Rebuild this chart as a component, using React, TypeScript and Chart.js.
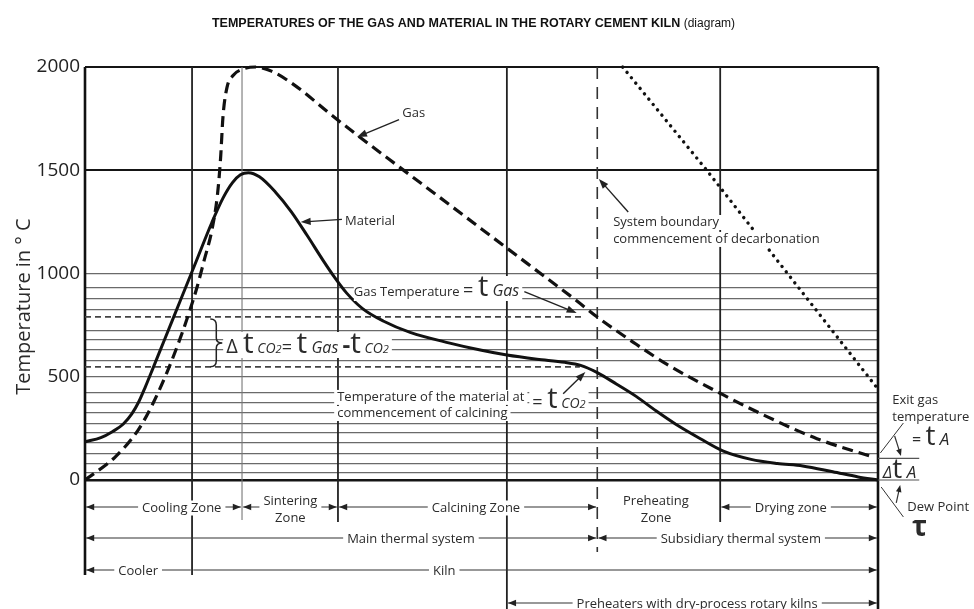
import { useEffect, useRef } from 'react';
import { Chart, registerables } from 'chart.js';

Chart.register(...registerables);

// ---------------- data ----------------
const chartTitle = 'TEMPERATURES OF THE GAS AND MATERIAL IN THE ROTARY CEMENT KILN';
const chartTitleNote = '(diagram)';
const yAxisTitle = 'Temperature in \u00B0 C';

const yTickLabels = [0, 500, 1000, 1500, 2000];
const yGridValues = [0, 35, 80, 130, 180, 230, 275, 325, 375, 425, 500, 580, 630, 680, 725, 825, 880, 930, 1000, 1500, 2000];

// position along the plant (0 = cooler discharge, 100 = kiln gas exit)
const gasPosition = [0, 3.8, 6.7, 8.6, 10.3, 11.6, 12.9, 14.1, 15.0, 16.0, 16.7, 17.1, 17.4, 17.9, 18.7, 19.9, 21.5, 23.5, 26.5, 31.0, 34.3, 39.7, 46.0, 53.2, 58.0, 62.0, 64.6, 69.1, 73.4, 80.5, 86.0, 92.3, 99.4];
const gasTemperature = [0, 111, 242, 373, 518, 644, 784, 930, 1060, 1210, 1380, 1560, 1760, 1900, 1960, 1990, 2000, 1980, 1910, 1770, 1671, 1514, 1332, 1123, 984, 868, 789, 668, 560, 412, 307, 200, 111];

const materialPosition = [0, 2, 3.5, 4.8, 5.9, 6.8, 7.6, 8.4, 10, 12, 14, 16, 17.4, 18.6, 19.6, 20.6, 22, 24, 26, 28, 30, 31.5, 33, 35, 37.6, 41, 46, 50, 53.2, 57, 60.5, 62.5, 64.6, 67, 69.5, 72, 74.5, 77.6, 80.5, 84, 87.3, 90.5, 94.3, 97.5, 100];
const materialTemperature = [185, 205, 235, 270, 320, 380, 450, 525, 677, 867, 1057, 1247, 1365, 1440, 1478, 1488, 1468, 1395, 1300, 1185, 1065, 980, 905, 830, 770, 715, 663, 628, 605, 585, 570, 555, 520, 465, 405, 335, 270, 200, 140, 100, 80, 68, 40, 15, 0];

const dottedPosition = [67.8, 78.4, 99.9];
const dottedTemperature = [2000, 1500, 445];

const zoneBoundaries = [0, 13.5, 19.8, 31.9, 53.2, 64.6, 80.1, 100];

const tGas = 790;
const tCO2 = 548;
const tA = 105;
const dewPoint = 0;

const zoneNames = ['Cooling Zone', 'Sintering\nZone', 'Calcining Zone', 'Preheating\nZone', 'Drying zone'];
const zoneStart = [0, 19.8, 31.9, 64.6, 80.1];
const zoneEnd = [19.8, 31.9, 64.6, 80.1, 100];
const systemNames = ['Main thermal system', 'Subsidiary thermal system'];
const systemStart = [0, 64.6];
const systemEnd = [64.6, 100];
const unitNames = ['Cooler', 'Kiln'];
const unitStart = [0, 13.5];
const unitEnd = [13.5, 100];
const preheaterNames = ['Preheaters with dry-process rotary kilns'];
const preheaterStart = [53.2];
const preheaterEnd = [100];

// ---------------- drawing helpers ----------------
const FONT = '"Open Sans", "Noto Sans", "DejaVu Sans", sans-serif';
const f = (size: number, style = '') => `${style} ${size}px ${FONT}`.trim();
const INK = '#2b2b2b';

type Part = [string, string];

function drawParts(ctx: CanvasRenderingContext2D, x: number, y: number, parts: Part[], box: number[] | null, align: 'left' | 'center' = 'left') {
  let w = 0;
  for (const [t, fnt] of parts) { ctx.font = fnt; w += ctx.measureText(t).width; }
  let cx = align === 'center' ? x - w / 2 : x;
  if (box) {
    const padL = box.length > 2 ? box[2] : 3;
    ctx.fillStyle = '#fff'; ctx.fillRect(cx - padL, y - box[0], w + padL + 3, box[0] + box[1]);
  }
  ctx.fillStyle = INK; ctx.textAlign = 'left'; ctx.textBaseline = 'alphabetic';
  for (const [t, fnt] of parts) { ctx.font = fnt; ctx.fillText(t, cx, y); cx += ctx.measureText(t).width; }
  return w;
}

function arrow(ctx: CanvasRenderingContext2D, x1: number, y1: number, x2: number, y2: number, len = 10, half = 3.6) {
  const a = Math.atan2(y2 - y1, x2 - x1);
  const c = Math.cos(a), s = Math.sin(a);
  ctx.beginPath(); ctx.moveTo(x1, y1); ctx.lineTo(x2 - c * len * 0.7, y2 - s * len * 0.7); ctx.stroke();
  ctx.beginPath(); ctx.moveTo(x2, y2);
  ctx.lineTo(x2 - c * len - s * half, y2 - s * len + c * half);
  ctx.lineTo(x2 - c * len + s * half, y2 - s * len - c * half);
  ctx.closePath(); ctx.fill();
}

function head(ctx: CanvasRenderingContext2D, tipX: number, y: number, dir: number) {
  ctx.beginPath(); ctx.moveTo(tipX, y); ctx.lineTo(tipX - dir * 8, y - 3.3); ctx.lineTo(tipX - dir * 8, y + 3.3); ctx.closePath(); ctx.fill();
}

function drawRow(ctx: CanvasRenderingContext2D, xs: any, rowY: number, names: string[], starts: number[], ends: number[], centers: number[], heads: [boolean, boolean][]) {
  names.forEach((name, i) => {
    const x1 = xs.getPixelForValue(starts[i]) + 1.2;
    const x2 = xs.getPixelForValue(ends[i]) - 1.2;
    const [hl, hr] = heads[i];
    ctx.strokeStyle = '#333'; ctx.fillStyle = '#222'; ctx.lineWidth = 1.1;
    if (hl || hr) {
      ctx.beginPath(); ctx.moveTo(x1, rowY); ctx.lineTo(x2, rowY); ctx.stroke();
      if (hl) head(ctx, x1, rowY, -1);
      if (hr) head(ctx, x2, rowY, 1);
    }
    const lines = name.split('\n');
    const n = lines.length;
    const cx = xs.getPixelForValue(centers[i]);
    ctx.font = f(13);
    const wMax = Math.max(...lines.map((l) => ctx.measureText(l).width));
    const base0 = rowY + 4.5 - ((n - 1) * 17) / 2 + (n > 1 ? 1.5 : 0);
    ctx.fillStyle = '#fff';
    ctx.fillRect(cx - wMax / 2 - 4, base0 - 11, wMax + 8, (n - 1) * 17 + 15);
    lines.forEach((l, k) => drawParts(ctx, cx, base0 + k * 17, [[l, f(13)]], null, 'center'));
  });
}

const verticalStyle = [
  { w: 2.6, c: '#111', ext: 95 },
  { w: 1.8, c: '#222', ext: 95 },
  { w: 1.1, c: '#777', ext: 40 },
  { w: 1.8, c: '#222', ext: 42 },
  { w: 1.8, c: '#222', ext: 129 },
  { w: 1.6, c: '#333', ext: 72, dash: [12, 8] },
  { w: 1.8, c: '#222', ext: 42 },
  { w: 2.6, c: '#111', ext: 129 },
];

const kilnPlugin = {
  id: 'kilnNotes',
  beforeDatasetsDraw(chart: any) {
    const { ctx, chartArea: a, scales } = chart;
    const xs = scales.x, ys = scales.y;
    ctx.save();
    zoneBoundaries.forEach((v, i) => {
      const st: any = verticalStyle[i];
      const px = xs.getPixelForValue(v);
      ctx.beginPath(); ctx.setLineDash(st.dash || []);
      ctx.lineWidth = st.w; ctx.strokeStyle = st.c;
      ctx.moveTo(px, a.top); ctx.lineTo(px, a.bottom + st.ext); ctx.stroke();
    });
    // dashed reference temperatures
    ctx.setLineDash([6, 4]); ctx.lineWidth = 1.6; ctx.strokeStyle = '#444';
    ctx.beginPath(); ctx.moveTo(xs.getPixelForValue(0), ys.getPixelForValue(tGas)); ctx.lineTo(xs.getPixelForValue(62.8), ys.getPixelForValue(tGas)); ctx.stroke();
    ctx.beginPath(); ctx.moveTo(xs.getPixelForValue(0), ys.getPixelForValue(tCO2)); ctx.lineTo(xs.getPixelForValue(62.4), ys.getPixelForValue(tCO2)); ctx.stroke();
    ctx.setLineDash([]);
    // exit-gas / dew-point levels to the right
    ctx.lineWidth = 1.2; ctx.strokeStyle = '#555';
    [tA, dewPoint].forEach((v) => {
      ctx.beginPath(); ctx.moveTo(xs.getPixelForValue(100), ys.getPixelForValue(v)); ctx.lineTo(xs.getPixelForValue(105.2), ys.getPixelForValue(v)); ctx.stroke();
    });
    ctx.restore();
  },
  afterDatasetsDraw(chart: any) {
    const { ctx, chartArea: a, scales } = chart;
    const xs = scales.x, ys = scales.y;
    const X = (v: number) => xs.getPixelForValue(v);
    const Y = (v: number) => ys.getPixelForValue(v);
    ctx.save();
    const ink = () => { ctx.strokeStyle = '#222'; ctx.fillStyle = '#222'; ctx.lineWidth = 1.4; };

    // Gas
    drawParts(ctx, X(40.0), Y(1758), [['Gas', f(13)]], [11, 4]);
    ink(); arrow(ctx, X(39.6), Y(1745), X(34.3), Y(1661));
    // Material
    drawParts(ctx, X(32.8), Y(1235), [['Material', f(13)]], [11, 4]);
    ink(); arrow(ctx, X(32.4), Y(1262), X(27.2), Y(1249));
    // System boundary
    drawParts(ctx, X(66.6), Y(1230), [['System boundary', f(13)]], [11, 4]);
    drawParts(ctx, X(66.6), Y(1148), [['commencement of decarbonation', f(13)]], [11, 4]);
    ink(); arrow(ctx, X(68.5), Y(1298), X(64.8), Y(1458));
    // Gas temperature
    drawParts(ctx, X(33.9), Y(891), [['Gas Temperature ', f(13)], ['= ', f(18)], ['t', f(29)], [' Gas', f(16, 'italic')]], [20, 5, 0]);
    ink(); arrow(ctx, X(55.4), Y(912), X(62.0), Y(809));
    // brace + delta
    ink(); ctx.lineWidth = 1.5;
    const bx = X(15.8), by1 = Y(780), by2 = Y(tCO2), bm = (by1 + by2) / 2;
    ctx.beginPath();
    ctx.moveTo(bx, by1);
    ctx.quadraticCurveTo(bx + 6, by1, bx + 6, by1 + 6);
    ctx.lineTo(bx + 6, bm - 5);
    ctx.quadraticCurveTo(bx + 6, bm, bx + 12, bm);
    ctx.quadraticCurveTo(bx + 6, bm, bx + 6, bm + 5);
    ctx.lineTo(bx + 6, by2 - 6);
    ctx.quadraticCurveTo(bx + 6, by2, bx, by2);
    ctx.stroke();
    drawParts(ctx, X(17.8), Y(615), [
      ['\u0394 ', f(20)], ['t', f(30)], [' CO', f(14, 'italic')], ['2', f(11, 'italic')], ['= ', f(18)],
      ['t', f(30)], [' Gas ', f(16, 'italic')], ['-', f(24, 'bold')], ['t', f(30)], [' CO', f(14, 'italic')], ['2', f(11, 'italic')],
    ], [21, 5]);
    // material at calcining
    drawParts(ctx, X(31.8), Y(383), [['Temperature of the material at', f(13)]], [11, 4]);
    drawParts(ctx, X(31.8), Y(305), [['commencement of calcining', f(13)]], [11, 4]);
    drawParts(ctx, X(56.4), Y(349), [['= ', f(18)], ['t', f(29)], [' CO', f(14, 'italic')], ['2', f(11, 'italic')]], [20, 4]);
    ink(); arrow(ctx, X(60.3), Y(418), X(63.1), Y(523));

    // right side notes
    drawParts(ctx, X(101.8), Y(368), [['Exit gas', f(13)]], null);
    drawParts(ctx, X(101.8), Y(286), [['temperature', f(13)]], null);
    drawParts(ctx, X(104.3), Y(169), [['= ', f(16)], ['t', f(28)], [' A', f(17, 'italic')]], null);
    ctx.strokeStyle = '#333'; ctx.lineWidth = 1;
    ctx.beginPath(); ctx.moveTo(X(100.3), Y(131)); ctx.lineTo(X(103.2), Y(276)); ctx.stroke();
    ctx.fillStyle = '#222'; ctx.lineWidth = 1.2;
    arrow(ctx, X(102.1), Y(213), X(102.9), Y(116), 7, 2.8);
    drawParts(ctx, X(100.6), Y(10), [['\u0394', f(17, 'italic')], ['t', f(28)], [' A', f(17, 'italic')]], null);
    ctx.strokeStyle = '#333'; ctx.fillStyle = '#222'; ctx.lineWidth = 1.2;
    arrow(ctx, X(102.3), Y(-111), X(102.8), Y(-24), 7, 2.8);
    ctx.lineWidth = 1;
    ctx.beginPath(); ctx.moveTo(X(100.4), Y(-34)); ctx.lineTo(X(103.2), Y(-179)); ctx.stroke();
    drawParts(ctx, X(103.7), Y(-150), [['Dew Point', f(13)]], null);
    drawParts(ctx, X(104.3), Y(-271), [['\u03C4', f(28, 'bold')]], null);

    // rows beneath the plot
    const rows = [27, 58, 90, 123].map((d) => a.bottom + d);
    drawRow(ctx, xs, rows[0], zoneNames, zoneStart, zoneEnd, [12.2, 25.9, 49.3, 72.0, 89.0],
      [[true, true], [true, true], [true, true], [false, false], [true, true]]);
    drawRow(ctx, xs, rows[1], systemNames, systemStart, systemEnd, [41.1, 82.7], [[true, true], [true, true]]);
    drawRow(ctx, xs, rows[2], unitNames, unitStart, unitEnd, [6.7, 45.3], [[true, false], [false, true]]);
    drawRow(ctx, xs, rows[3], preheaterNames, preheaterStart, preheaterEnd, [77.2], [[true, true]]);

    // title
    ctx.textBaseline = 'alphabetic';
    const tf = 'bold 12.5px "Liberation Sans", Arial, sans-serif';
    const nf = '12px "Liberation Sans", Arial, sans-serif';
    ctx.font = tf; const w1 = ctx.measureText(chartTitle + ' ').width;
    ctx.font = nf; const w2 = ctx.measureText(chartTitleNote).width;
    const tx = (a.left + a.right) / 2 - 8 - (w1 + w2) / 2;
    ctx.fillStyle = '#111';
    ctx.font = tf; ctx.fillText(chartTitle + ' ', tx, 27);
    ctx.font = nf; ctx.fillText(chartTitleNote, tx + w1, 27);

    // y axis title
    ctx.save();
    ctx.translate(a.left - 55, (a.top + a.bottom) / 2 + 33);
    ctx.rotate(-Math.PI / 2);
    ctx.textAlign = 'center';
    ctx.font = f(20);
    ctx.fillStyle = INK;
    ctx.fillText(yAxisTitle, 0, 0);
    ctx.restore();

    ctx.restore();
  },
};

const pts = (xs: number[], ys: number[]) => xs.map((x, i) => ({ x, y: ys[i] }));

export default function App() {
  const ref = useRef<HTMLCanvasElement>(null);
  useEffect(() => {
    document.body.style.margin = '0';
    const canvas = ref.current as HTMLCanvasElement;
    const chart = new Chart(canvas, {
      type: 'line',
      data: {
        datasets: [
          {
            label: 'Material',
            data: pts(materialPosition, materialTemperature),
            borderColor: '#111', borderWidth: 3, pointRadius: 0,
            cubicInterpolationMode: 'monotone', clip: false as any,
          },
          {
            label: 'Gas',
            data: pts(gasPosition, gasTemperature),
            borderColor: '#111', borderWidth: 3.2, borderDash: [11, 6], pointRadius: 0,
            cubicInterpolationMode: 'monotone', clip: false as any,
          },
          {
            label: 'Boundary',
            data: pts(dottedPosition, dottedTemperature),
            borderColor: '#111', borderWidth: 3.4, borderDash: [0.1, 6.8], borderCapStyle: 'round', pointRadius: 0,
            clip: false as any,
          },
        ],
      },
      options: {
        responsive: false,
        animation: false,
        events: [],
        layout: { padding: { left: 0, right: 96, top: 67, bottom: 129 } },
        plugins: { legend: { display: false }, tooltip: { enabled: false }, title: { display: false } },
        scales: {
          x: { type: 'linear', min: 0, max: 100, display: false },
          y: {
            type: 'linear', min: 0, max: 2000,
            afterBuildTicks: (scale: any) => { scale.ticks = yGridValues.map((v) => ({ value: v })); },
            afterFit: (scale: any) => { scale.width = 85; },
            ticks: {
              autoSkip: false,
              padding: 5,
              color: '#222',
              font: { family: '"Open Sans", "Noto Sans", sans-serif', size: 19 },
              callback: (v: any) => (yTickLabels.includes(Number(v)) ? String(v) : ''),
            },
            grid: {
              drawTicks: false,
              color: (c: any) => {
                const v = c.tick ? c.tick.value : 0;
                return v === 0 || v === 1500 || v === 2000 ? '#151515' : '#6a6a6a';
              },
              lineWidth: (c: any) => {
                const v = c.tick ? c.tick.value : 0;
                return v === 0 ? 2.6 : v === 1500 || v === 2000 ? 1.9 : 1.2;
              },
            },
            border: { display: false },
          },
        },
      } as any,
      plugins: [kilnPlugin],
    });
    return () => chart.destroy();
  }, []);
  return (
    <div style={{ width: 974, height: 609, background: '#fff' }}>
      <canvas ref={ref} width={974} height={609} style={{ display: 'block' }} />
    </div>
  );
}
